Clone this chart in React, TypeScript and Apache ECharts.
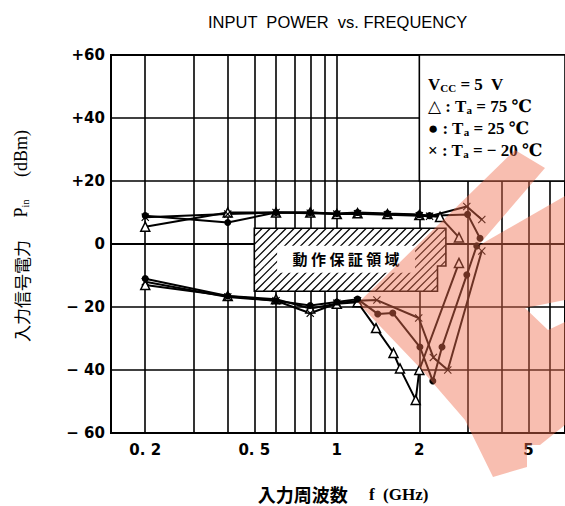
import React, { useEffect, useRef } from 'react';
import * as echarts from 'echarts';

// ---- axes ----
const X_MIN = 0.15;
const X_MAX = 6.8;
const X_GRID = [0.2, 0.3, 0.4, 0.5, 0.6, 0.7, 0.8, 0.9, 1, 2, 3, 4, 5, 6];
const X_LABELS = [0.2, 0.5, 1, 2, 5];
const Y_MIN = -60;
const Y_MAX = 60;
const Y_STEP = 20;

// ---- Ta = 75 C (triangle) ----
const F75_UP = [0.2, 0.4, 0.6, 0.8, 1.0, 1.19, 1.53, 2.0, 2.38, 2.79];
const P75_UP = [5.5, 10, 10, 10, 9.5, 9.8, 9.5, 9.2, 8.6, 2.1];
const F75_LO = [0.2, 0.4, 0.6, 0.8, 1.0, 1.19, 1.39, 1.61, 1.7, 1.94, 2.0, 2.79];
const P75_LO = [-13, -16.5, -17.5, -20.5, -19, -18.5, -26.7, -34.6, -39.5, -49.5, -40, -6];

// ---- Ta = 25 C (dot) ----
const F25_UP = [0.2, 0.4, 0.6, 0.8, 1.0, 1.19, 1.53, 2.0, 2.18, 3.0, 3.33];
const P25_UP = [9, 6.8, 10, 10, 9.7, 10, 9.7, 9.4, 9, 9.4, 1.8];
const F25_LO = [0.2, 0.4, 0.6, 0.8, 1.0, 1.19, 1.41, 1.6, 2.01, 2.24, 2.42, 2.98, 3.24];
const P25_LO = [-11, -16.5, -18, -19.5, -18.4, -17.5, -22.2, -21.9, -32.7, -43.5, -32.7, -9.8, -0.6];

// ---- Ta = -20 C (cross) ----
const FM20_UP = [0.2, 0.4, 0.6, 0.8, 1.0, 1.19, 1.53, 2.0, 2.18, 2.98, 3.38];
const PM20_UP = [8.5, 9.5, 10, 9.8, 9.5, 9.6, 9.3, 9, 8.8, 11.9, 7.8];
const FM20_LO = [0.2, 0.4, 0.6, 0.8, 1.0, 1.19, 1.4, 1.99, 2.25, 2.54, 3.38];
const PM20_LO = [-12, -16.8, -18, -22, -18.8, -18, -17.8, -23.5, -36, -40, -2.2];

// ---- guaranteed operating area (stepped box) ----
const OP_F_LOW = 0.5;
const OP_F_HIGH = 2.5;
const OP_F_STEP = 2.33;
const OP_P_TOP = 5;
const OP_P_STEP = -7;
const OP_P_BOTTOM = -15;
const OP_LABEL = '動 作 保 証 領 域';

// ---- legend box region ----
const LEG_F_LEFT = 2;
const LEG_P_BOTTOM = 20;

const zip = (f: number[], p: number[]) => f.map((v, i) => [v, p[i]]);

const CROSS = 'path://M1,0 L5,4 L9,0 L10,1 L6,5 L10,9 L9,10 L5,6 L1,10 L0,9 L4,5 L0,1 Z';

const FONT = '"DejaVu Sans", sans-serif';
const SERIF = '"Liberation Serif", "DejaVu Serif", serif';
const JP = '"Noto Sans CJK JP", sans-serif';

function lineSeries(name: string, data: number[][], symbol: string, size: number, hollow: boolean) {
  return {
    name,
    type: 'line',
    z: 3,
    data,
    symbol,
    symbolSize: size,
    showAllSymbol: true,
    lineStyle: { color: '#000', width: 2 },
    itemStyle: hollow
      ? { color: '#fff', borderColor: '#000', borderWidth: 1.5 }
      : { color: '#000', borderWidth: 0 },
    emphasis: { disabled: true },
  };
}

// "sample" watermark stamp (decoration, pixel coordinates)
const WM_COLOR = 'rgba(240,110,80,0.45)';
const WM_POLYS: number[][][] = [
  [
    [358, 303], [515, 150], [545, 168], [478, 246], [565, 196], [565, 300], [525, 308],
    [548, 330], [565, 322], [565, 425], [540, 445], [527, 445], [527, 467], [493, 477],
    [465, 420], [420, 368],
  ],
];

const legendRich = {
  b: { fontFamily: SERIF, fontSize: 17, fontWeight: 'bold', fill: '#000' },
  s: { fontFamily: SERIF, fontSize: 11, fontWeight: 'bold', fill: '#000', padding: [8, 0, 0, 0] },
};

export default function App() {
  const ref = useRef<HTMLDivElement>(null);
  useEffect(() => {
    if (!ref.current) return;
    const chart = echarts.init(ref.current, undefined, { renderer: 'svg' });

    const legendLines = [
      '{b|V}{s|CC}{b| = 5  V}',
      '{b|△ : T}{s|a}{b| = 75 ℃}',
      '{b|● : T}{s|a}{b| = 25 ℃}',
      '{b|× : T}{s|a}{b| = − 20 ℃}',
    ];

    const option: any = {
      animation: false,
      backgroundColor: '#fff',
      grid: { left: 111, right: 0, top: 55, bottom: 73, show: true, borderColor: '#000', borderWidth: 2 },
      xAxis: {
        type: 'log',
        logBase: 10,
        min: X_MIN,
        max: X_MAX,
        axisLine: { show: true, lineStyle: { color: '#000', width: 2 } },
        axisTick: { show: false },
        axisLabel: { show: false },
        splitLine: { show: false },
        minorSplitLine: { show: false },
      },
      yAxis: {
        type: 'value',
        min: Y_MIN,
        max: Y_MAX,
        interval: Y_STEP,
        axisLine: { show: true, lineStyle: { color: '#000', width: 2 } },
        axisTick: { show: false },
        axisLabel: {
          color: '#000',
          fontFamily: FONT,
          fontWeight: 'bold',
          fontSize: 15,
          margin: 6,
          formatter: (v: number) => (v > 0 ? '+' + v : v < 0 ? '− ' + Math.abs(v) : '0'),
        },
        splitLine: { show: true, lineStyle: { color: '#000', width: 1.6 } },
      },
      graphic: [
        {
          type: 'text',
          left: 208,
          top: 13,
          z: 10,
          style: {
            text: 'INPUT  POWER  vs. FREQUENCY',
            font: '16.5px "Liberation Sans", sans-serif',
            fill: '#000',
          },
        },
        {
          type: 'text',
          x: 343,
          y: 494,
          z: 10,
          style: {
            text: '{j|入力周波数}{r|     f  (GHz)}',
            align: 'center',
            verticalAlign: 'middle',
            rich: {
              j: { fontFamily: JP, fontSize: 18, fontWeight: 'bold', fill: '#000' },
              r: { fontFamily: SERIF, fontSize: 17, fontWeight: 'bold', fill: '#000' },
            },
          },
        },
        {
          type: 'text',
          x: 21,
          y: 236,
          z: 10,
          rotation: Math.PI / 2,
          style: {
            text: '{j|入力信号電力}{r|     P}{s|in}{r|     (dBm)}',
            align: 'center',
            verticalAlign: 'middle',
            rich: {
              j: { fontFamily: JP, fontSize: 17, fill: '#000' },
              r: { fontFamily: SERIF, fontSize: 18, fill: '#000' },
              s: { fontFamily: SERIF, fontSize: 10, fill: '#000', padding: [8, 0, 0, 0] },
            },
          },
        },
        ...legendLines.map((t, i) => ({
          type: 'text',
          x: 428,
          y: 84 + i * 22,
          z: 50,
          style: { text: t, verticalAlign: 'middle', rich: legendRich },
        })),
        ...WM_POLYS.map((pts) => ({
          type: 'polygon',
          z: 100,
          silent: true,
          shape: { points: pts },
          style: { fill: WM_COLOR },
        })),
      ],
      series: [
        {
          type: 'line',
          data: [],
          silent: true,
          markLine: {
            z: 1,
            silent: true,
            symbol: ['none', 'none'],
            lineStyle: { color: '#000', width: 1.6, type: 'solid' },
            label: {
              show: true,
              position: 'start',
              distance: 9,
              color: '#000',
              fontFamily: FONT,
              fontWeight: 'bold',
              fontSize: 15,
              formatter: (p: any) => {
                const v = p.value;
                return X_LABELS.indexOf(v) >= 0 ? String(v).replace('.', '. ') : '';
              },
            },
            emphasis: { disabled: true },
            data: X_GRID.map((v) => ({ xAxis: v })),
          },
        },
        {
          type: 'line',
          data: [],
          silent: true,
          markArea: {
            z: 2,
            silent: true,
            itemStyle: { color: '#fff', borderColor: '#000', borderWidth: 1.6 },
            label: { show: false },
            data: [[{ coord: [LEG_F_LEFT, Y_MAX] }, { coord: [X_MAX, LEG_P_BOTTOM] }]],
          },
        },
        {
          type: 'custom',
          z: 2,
          silent: true,
          data: [[OP_F_LOW, OP_P_TOP]],
          encode: { x: 0, y: 1 },
          renderItem: (_params: any, api: any) => {
            const a = api.coord([OP_F_LOW, OP_P_TOP]);
            const b = api.coord([OP_F_HIGH, OP_P_STEP]);
            const c = api.coord([OP_F_STEP, OP_P_BOTTOM]);
            const xL = a[0], yT = a[1], xR = b[0], yS = b[1], xS = c[0], yB = c[1];
            const pts = [[xL, yT], [xR, yT], [xR, yS], [xS, yS], [xS, yB], [xL, yB]];
            const rects = [[xL, xR, yT, yS], [xL, xS, yS, yB]];
            const children: any[] = [
              { type: 'polygon', shape: { points: pts }, style: { fill: '#fff', stroke: 'none' } },
            ];
            const step = 8;
            for (let cc = xL + yT; cc < xR + yB + step; cc += step) {
              for (const [x0, x1, y0, y1] of rects) {
                const s = Math.max(x0, cc - y1);
                const e = Math.min(x1, cc - y0);
                if (e > s) {
                  children.push({
                    type: 'line',
                    shape: { x1: s, y1: cc - s, x2: e, y2: cc - e },
                    style: { stroke: '#000', lineWidth: 1.2 },
                  });
                }
              }
            }
            children.push({
              type: 'polygon',
              shape: { points: pts },
              style: { fill: 'none', stroke: '#000', lineWidth: 1.6 },
            });
            const cx = (xL + xR) / 2 - 4;
            const cy = (yT + yB) / 2 - 1;
            children.push({
              type: 'rect',
              shape: { x: cx - 69, y: cy - 13, width: 138, height: 27 },
              style: { fill: '#fff' },
            });
            children.push({
              type: 'text',
              x: cx,
              y: cy,
              style: {
                text: OP_LABEL,
                align: 'center',
                verticalAlign: 'middle',
                fontFamily: JP,
                fontSize: 15,
                fontWeight: 'bold',
                fill: '#000',
              },
            });
            return { type: 'group', children };
          },
        },
        lineSeries('75 up', zip(F75_UP, P75_UP), 'triangle', 9, true),
        lineSeries('75 lo', zip(F75_LO, P75_LO), 'triangle', 9, true),
        lineSeries('25 up', zip(F25_UP, P25_UP), 'circle', 7, false),
        lineSeries('25 lo', zip(F25_LO, P25_LO), 'circle', 7, false),
        lineSeries('-20 up', zip(FM20_UP, PM20_UP), CROSS, 8, false),
        lineSeries('-20 lo', zip(FM20_LO, PM20_LO), CROSS, 8, false),
      ],
    };

    chart.setOption(option);
    return () => chart.dispose();
  }, []);

  return (
    <div
      ref={ref}
      style={{ position: 'fixed', left: 0, top: 0, width: 565, height: 506, background: '#fff' }}
    />
  );
}
